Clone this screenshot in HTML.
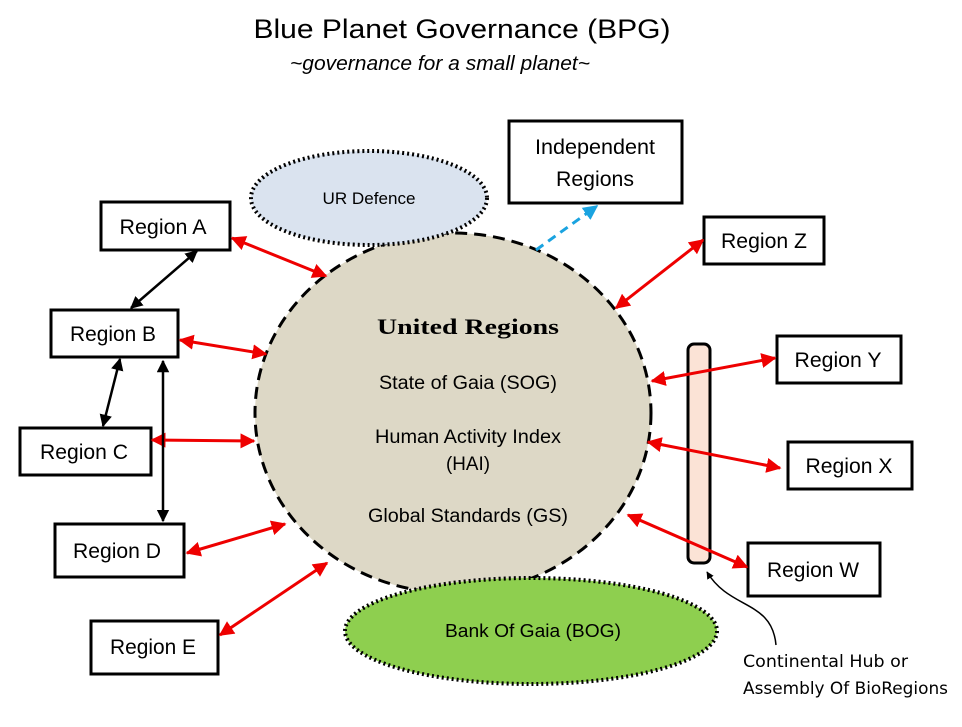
<!DOCTYPE html>
<html><head><style>body{margin:0;background:#fff}</style></head><body>
<svg width="962" height="722" viewBox="0 0 962 722" xmlns="http://www.w3.org/2000/svg" font-family="Liberation Sans, Arial, sans-serif">
<defs>
<marker id="r" viewBox="0 0 10 10" refX="9" refY="5" markerWidth="5" markerHeight="5" orient="auto-start-reverse"><path d="M0,0L10,5L0,10z" fill="#e00"/></marker>
<marker id="k" viewBox="0 0 10 10" refX="9" refY="5" markerWidth="5" markerHeight="5" orient="auto-start-reverse"><path d="M0,0L10,5L0,10z" fill="#000"/></marker>
<marker id="b" viewBox="0 0 10 10" refX="9" refY="5" markerWidth="5" markerHeight="5" orient="auto"><path d="M0,0L10,5L0,10z" fill="#1aa3e0"/></marker>
</defs>
<text x="462" y="38" font-size="27" text-anchor="middle" textLength="417" lengthAdjust="spacingAndGlyphs">Blue Planet Governance (BPG)</text>
<text x="440" y="70" font-size="20" font-style="italic" text-anchor="middle" textLength="300" lengthAdjust="spacingAndGlyphs">~governance for a small planet~</text>

<ellipse cx="453" cy="413" rx="198" ry="180" fill="#ddd8c6" stroke="#000" stroke-width="3" stroke-dasharray="12,7"/>
<ellipse cx="369" cy="198" rx="118" ry="47" fill="#dae3ef" stroke="#000" stroke-width="4" stroke-dasharray="2,3"/>
<text x="369" y="204" font-size="17" text-anchor="middle" textLength="93" lengthAdjust="spacingAndGlyphs">UR Defence</text>
<ellipse cx="531" cy="631" rx="186" ry="53" fill="#8ecf4f" stroke="#000" stroke-width="4" stroke-dasharray="2,3"/>
<text x="533" y="637" font-size="18" text-anchor="middle" textLength="176" lengthAdjust="spacingAndGlyphs">Bank Of Gaia (BOG)</text>

<text x="468" y="334" font-size="22" font-weight="bold" font-family="Liberation Serif, serif" text-anchor="middle" textLength="182" lengthAdjust="spacingAndGlyphs">United Regions</text>
<g font-size="19" text-anchor="middle">
<text x="468" y="389" textLength="178" lengthAdjust="spacingAndGlyphs">State of Gaia (SOG)</text>
<text x="468" y="443" textLength="186" lengthAdjust="spacingAndGlyphs">Human Activity Index</text>
<text x="468" y="470" textLength="44" lengthAdjust="spacingAndGlyphs">(HAI)</text>
<text x="468" y="522" textLength="200" lengthAdjust="spacingAndGlyphs">Global Standards (GS)</text>
</g>

<rect x="688" y="344" width="22" height="219" rx="6" fill="#fbe3d6" stroke="#000" stroke-width="3"/>

<g fill="#fff" stroke="#000" stroke-width="3">
<rect x="101" y="202" width="129" height="48"/>
<rect x="51" y="310" width="127" height="47"/>
<rect x="20" y="428" width="131" height="47"/>
<rect x="55" y="524" width="129" height="53"/>
<rect x="91" y="621" width="127" height="53"/>
<rect x="509" y="121" width="173" height="82"/>
<rect x="704" y="217" width="120" height="47"/>
<rect x="777" y="336" width="124" height="47"/>
<rect x="788" y="442" width="124" height="47"/>
<rect x="748" y="543" width="132" height="53"/>
</g>
<g font-size="21" text-anchor="middle">
<text x="163" y="234" textLength="87" lengthAdjust="spacingAndGlyphs">Region A</text>
<text x="113" y="341" textLength="86" lengthAdjust="spacingAndGlyphs">Region B</text>
<text x="84" y="459" textLength="88" lengthAdjust="spacingAndGlyphs">Region C</text>
<text x="117" y="558" textLength="88" lengthAdjust="spacingAndGlyphs">Region D</text>
<text x="153" y="654" textLength="86" lengthAdjust="spacingAndGlyphs">Region E</text>
<text x="595" y="154" textLength="120" lengthAdjust="spacingAndGlyphs">Independent</text>
<text x="595" y="186" textLength="78" lengthAdjust="spacingAndGlyphs">Regions</text>
<text x="764" y="248" textLength="86" lengthAdjust="spacingAndGlyphs">Region Z</text>
<text x="838" y="367" textLength="87" lengthAdjust="spacingAndGlyphs">Region Y</text>
<text x="849" y="473" textLength="87" lengthAdjust="spacingAndGlyphs">Region X</text>
<text x="813" y="577" textLength="92" lengthAdjust="spacingAndGlyphs">Region W</text>
</g>

<g stroke="#e00" stroke-width="3" marker-start="url(#r)" marker-end="url(#r)">
<line x1="232" y1="238" x2="326" y2="276"/>
<line x1="180" y1="340" x2="266" y2="354"/>
<line x1="152" y1="440" x2="254" y2="441"/>
<line x1="187" y1="553" x2="285" y2="524"/>
<line x1="220" y1="635" x2="327" y2="563"/>
<line x1="703" y1="240" x2="616" y2="308"/>
<line x1="775" y1="358" x2="652" y2="381"/>
<line x1="780" y1="468" x2="648" y2="442"/>
<line x1="747" y1="567" x2="628" y2="515"/>
</g>
<g stroke="#000" stroke-width="2.5" marker-start="url(#k)" marker-end="url(#k)">
<line x1="197" y1="251" x2="131" y2="308"/>
<line x1="120" y1="359" x2="103" y2="426"/>
<line x1="163" y1="361" x2="163" y2="521"/>
</g>
<line x1="536" y1="250" x2="597" y2="206" stroke="#1aa3e0" stroke-width="3" stroke-dasharray="9,6" marker-end="url(#b)"/>
<path d="M776,645 C772,600 730,610 707,572" fill="none" stroke="#000" stroke-width="1.5" marker-end="url(#k)"/>
<g font-size="17" font-family="DejaVu Sans, sans-serif">
<text x="743" y="667" textLength="165" lengthAdjust="spacingAndGlyphs">Continental Hub or</text>
<text x="743" y="694" textLength="205" lengthAdjust="spacingAndGlyphs">Assembly Of BioRegions</text>
</g>
</svg>
</body></html>
